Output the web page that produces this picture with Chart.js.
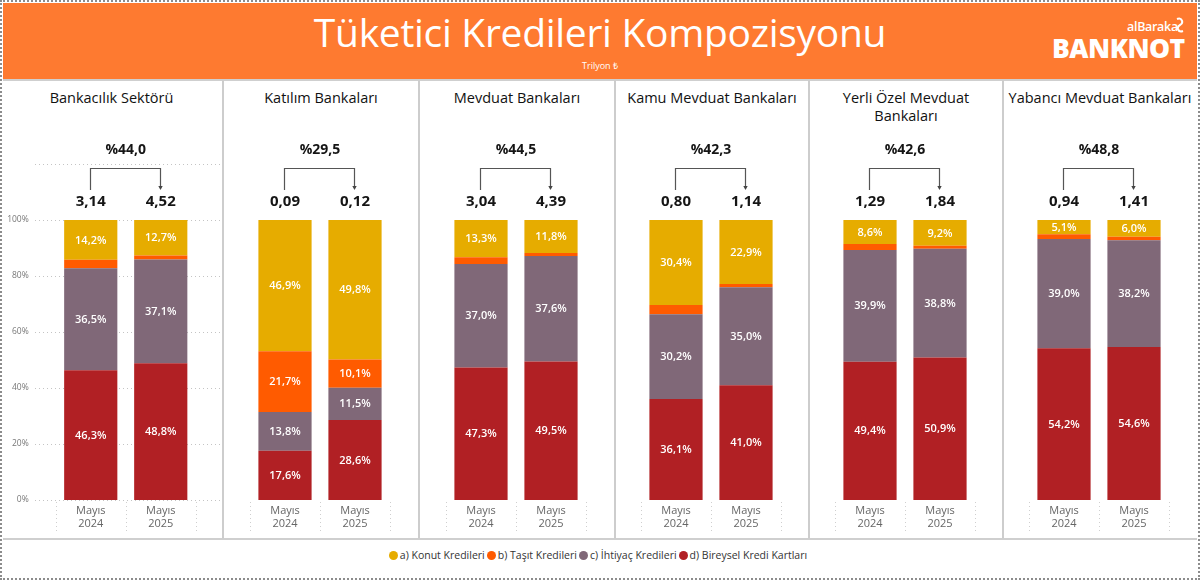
<!DOCTYPE html>
<html>
<head>
<meta charset="utf-8">
<script src="https://cdn.jsdelivr.net/npm/chart.js@4.4.1/dist/chart.umd.min.js"></script>
<style>
html,body{margin:0;padding:0;background:#fff;}
body{width:1200px;height:580px;position:relative;overflow:hidden;font-family:'Open Sans',sans-serif;}
#frame{position:absolute;left:0;top:0;width:1196px;height:576px;border:2px dotted #8c8c8c;pointer-events:none;}
#header{position:absolute;left:3px;top:3px;width:1194px;height:77px;background:#FE7A30;}
#mainTitle{position:absolute;left:0;width:1200px;top:5px;text-align:center;color:#fff;font-size:39px;font-weight:400;letter-spacing:-0.3px;}
#unit{position:absolute;left:0;width:1200px;top:59px;text-align:center;color:#fff;font-size:9px;}
#logo1{position:absolute;left:1127px;top:18px;color:#fff;font-size:12.5px;font-weight:600;letter-spacing:-0.3px;}
#logo2{position:absolute;left:1052px;top:30px;color:#fff;font-size:26.5px;font-weight:800;letter-spacing:-0.5px;}
#logoIcon{position:absolute;left:1174px;top:17px;}
.hline{position:absolute;left:3px;width:1194px;background:#cfcfcf;}
.vline{position:absolute;top:80px;height:459px;width:2px;background:#cdcdcd;}
.ptitle{position:absolute;top:89px;text-align:center;color:#111;font-size:14.5px;line-height:18px;}
canvas{position:absolute;}
#legend{position:absolute;top:548px;left:0;width:1196px;text-align:center;font-size:10.5px;color:#333;white-space:nowrap;}
#legend span.item{margin:0 1px;}
#legend span.dot{display:inline-block;width:9px;height:9px;border-radius:50%;margin-right:2px;vertical-align:-1px;}
</style>
</head>
<body>
<div id="header"></div>
<div id="mainTitle">Tüketici Kredileri Kompozisyonu</div>
<div id="unit">Trilyon ₺</div>
<div id="logo1">alBaraka</div>
<svg id="logoIcon" width="12" height="16" viewBox="0 0 12 16"><path d="M3 2 C8 0 10 6 6 8 C2 10 4 16 9 14" fill="none" stroke="#fff" stroke-width="2"/></svg>
<div id="logo2">BANKNOT</div>
<div class="hline" style="top:79px;height:2px;"></div>
<div class="hline" style="top:538px;height:2px;"></div>
<div id="legend"></div>
<div id="frame"></div>
<script>
// ---------------- DATA ----------------
const panelTitles = ['Bankacılık Sektörü', 'Katılım Bankaları', 'Mevduat Bankaları', 'Kamu Mevduat Bankaları', 'Yerli Özel Mevduat Bankaları', 'Yabancı Mevduat Bankaları'];
const periods = [['Mayıs', '2024'], ['Mayıs', '2025']];
const seriesNames = ['a) Konut Kredileri', 'b) Taşıt Kredileri', 'c) İhtiyaç Kredileri', 'd) Bireysel Kredi Kartları'];
const seriesColors = ['#E6AC00', '#FF5B00', '#806878', '#B12024'];
// shares (%) per panel, [Mayıs 2024, Mayıs 2025]
const konut   = [[14.2, 12.7], [46.9, 49.8], [13.3, 11.8], [30.4, 22.9], [8.6, 9.2], [5.1, 6.0]];
const tasit   = [[3.0, 1.4], [21.7, 10.1], [2.4, 1.1], [3.3, 1.1], [2.1, 1.1], [1.7, 1.2]];
const ihtiyac = [[36.5, 37.1], [13.8, 11.5], [37.0, 37.6], [30.2, 35.0], [39.9, 38.8], [39.0, 38.2]];
const kart    = [[46.3, 48.8], [17.6, 28.6], [47.3, 49.5], [36.1, 41.0], [49.4, 50.9], [54.2, 54.6]];
// totals (trilyon ₺) and growth (%)
const totals = [[3.14, 4.52], [0.09, 0.12], [3.04, 4.39], [0.80, 1.14], [1.29, 1.84], [0.94, 1.41]];
const growth = [44.0, 29.5, 44.5, 42.3, 42.6, 48.8];
const yTicks = [0, 20, 40, 60, 80, 100, 120];

// ---------------- LAYOUT ----------------
const edges = [0, 223, 419, 615, 809, 1003, 1197];
const CANVAS_TOP = 130, AREA_TOP = 164, AREA_BOTTOM = 500, XAXIS_H = 36;
const titleLines = {4: 'Yerli Özel Mevduat<br>Bankaları'};

const fmt = (v, d) => v.toFixed(d).replace('.', ',');
const FONT = '"Open Sans", sans-serif';

// legend
const legendEl = document.getElementById('legend');
seriesNames.forEach((n, i) => {
  const s = document.createElement('span');
  s.className = 'item';
  s.innerHTML = '<span class="dot" style="background:' + seriesColors[i] + '"></span>' + n;
  legendEl.appendChild(s);
});

// separators
for (let k = 1; k < edges.length - 1; k++) {
  const d = document.createElement('div');
  d.className = 'vline';
  d.style.left = (edges[k] - 1) + 'px';
  document.body.appendChild(d);
}

const gridPlugin = {
  id: 'hgrid',
  beforeDatasetsDraw(chart, args, opts) {
    if (!opts.show) return;
    const ctx = chart.ctx, ys = chart.scales.y;
    ctx.save();
    ctx.strokeStyle = '#c4c4c4';
    ctx.lineWidth = 1;
    ctx.setLineDash([1, 3]);
    yTicks.forEach(v => {
      const y = Math.round(ys.getPixelForValue(v)) + 0.5;
      ctx.beginPath();
      ctx.moveTo(35, y);
      ctx.lineTo(chart.width - 2, y);
      ctx.stroke();
    });
    ctx.restore();
  }
};

const catLinesPlugin = {
  id: 'catLines',
  afterDraw(chart) {
    const ctx = chart.ctx, xs = chart.scales.x;
    const x0 = xs.getPixelForValue(0), x1 = xs.getPixelForValue(1), w = x1 - x0;
    const b = chart.chartArea.bottom;
    ctx.save();
    ctx.strokeStyle = '#cfcfcf';
    ctx.lineWidth = 1;
    ctx.setLineDash([1, 3]);
    [x0 - w / 2, (x0 + x1) / 2, x1 + w / 2].forEach(x => {
      const xx = Math.round(x) + 0.5;
      ctx.beginPath();
      ctx.moveTo(xx, b + 2);
      ctx.lineTo(xx, b + 33);
      ctx.stroke();
    });
    ctx.restore();
  }
};

const segLabelPlugin = {
  id: 'segLabels',
  afterDatasetsDraw(chart) {
    const ctx = chart.ctx;
    ctx.save();
    ctx.font = '600 11px ' + FONT;
    ctx.fillStyle = '#ffffff';
    ctx.textAlign = 'center';
    ctx.textBaseline = 'middle';
    chart.data.datasets.forEach((ds, di) => {
      const meta = chart.getDatasetMeta(di);
      meta.data.forEach((el, j) => {
        const v = ds.data[j];
        if (v < 4) return;
        ctx.fillText(fmt(v, 1) + '%', el.x, (el.y + el.base) / 2 + 0.5);
      });
    });
    ctx.restore();
  }
};

const annotPlugin = {
  id: 'annot',
  afterDatasetsDraw(chart, args, opts) {
    const ctx = chart.ctx, xs = chart.scales.x, ys = chart.scales.y;
    const y100 = ys.getPixelForValue(100);
    const x0 = xs.getPixelForValue(0), x1 = xs.getPixelForValue(1);
    ctx.save();
    ctx.fillStyle = '#151515';
    ctx.textAlign = 'center';
    ctx.textBaseline = 'middle';
    ctx.font = 'bold 15px ' + FONT;
    ctx.fillText(fmt(opts.totals[0], 2), x0, y100 - 18);
    ctx.fillText(fmt(opts.totals[1], 2), x1, y100 - 18);
    ctx.font = 'bold 14px ' + FONT;
    ctx.fillText('%' + fmt(opts.growth, 1), (x0 + x1) / 2, y100 - 70);
    // bracket
    const lx = Math.round(x0 - 1) + 0.5, rx = Math.round(x1 - 1) + 0.5;
    const yt = Math.round(y100 - 52) + 0.5, yb = y100 - 30;
    ctx.strokeStyle = '#555';
    ctx.lineWidth = 1.2;
    ctx.beginPath();
    ctx.moveTo(lx, yb);
    ctx.lineTo(lx, yt);
    ctx.lineTo(rx, yt);
    ctx.lineTo(rx, yb - 3);
    ctx.stroke();
    ctx.fillStyle = '#444';
    ctx.beginPath();
    ctx.moveTo(rx - 2.2, yb - 4);
    ctx.lineTo(rx + 2.2, yb - 4);
    ctx.lineTo(rx, yb);
    ctx.closePath();
    ctx.fill();
    ctx.restore();
  }
};

panelTitles.forEach((title, i) => {
  const left = edges[i], right = edges[i + 1], width = right - left;
  // title
  const t = document.createElement('div');
  t.className = 'ptitle';
  t.style.left = left + 'px';
  t.style.width = width + 'px';
  t.innerHTML = titleLines[i] || title;
  document.body.appendChild(t);

  const pairC = i === 0 ? 125.75 : (left + right) / 2 - 1;
  const areaL = pairC - 70, areaR = pairC + 70;
  const yW = i === 0 ? 50 : 0;

  const canvas = document.createElement('canvas');
  canvas.width = width;
  canvas.height = AREA_BOTTOM + XAXIS_H - CANVAS_TOP;
  canvas.style.left = left + 'px';
  canvas.style.top = CANVAS_TOP + 'px';
  canvas.style.width = width + 'px';
  canvas.style.height = canvas.height + 'px';
  document.body.appendChild(canvas);

  const stackSeries = [kart, ihtiyac, tasit, konut];
  const stackColors = [seriesColors[3], seriesColors[2], seriesColors[1], seriesColors[0]];
  const stackNames = [seriesNames[3], seriesNames[2], seriesNames[1], seriesNames[0]];

  new Chart(canvas, {
    type: 'bar',
    data: {
      labels: periods,
      datasets: stackSeries.map((s, k) => ({
        label: stackNames[k],
        data: s[i],
        backgroundColor: stackColors[k],
        borderWidth: 0,
        barPercentage: 0.76,
        categoryPercentage: 1.0
      }))
    },
    options: {
      responsive: false,
      animation: false,
      devicePixelRatio: 1,
      layout: {
        padding: {
          left: areaL - left - yW,
          right: right - areaR,
          top: AREA_TOP - CANVAS_TOP,
          bottom: 0
        }
      },
      plugins: {
        legend: {display: false},
        tooltip: {enabled: false},
        hgrid: {show: i === 0},
        annot: {totals: totals[i], growth: growth[i]}
      },
      scales: {
        x: {
          stacked: true,
          grid: {display: false, drawTicks: false},
          border: {display: false},
          ticks: {
            color: '#666',
            font: {family: FONT, size: 11},
            padding: 4,
            maxRotation: 0,
            autoSkip: false
          },
          afterFit: s => { s.height = XAXIS_H; }
        },
        y: {
          stacked: true,
          display: i === 0,
          min: 0,
          max: 120,
          grid: {display: false, drawTicks: false},
          border: {display: false},
          ticks: {
            stepSize: 20,
            color: '#777',
            font: {family: FONT, size: 8.5},
            padding: 27,
            callback: v => (v === 120 ? '' : v + '%')
          },
          afterFit: s => { s.width = yW; }
        }
      }
    },
    plugins: [gridPlugin, catLinesPlugin, segLabelPlugin, annotPlugin]
  });
});
</script>
</body>
</html>
